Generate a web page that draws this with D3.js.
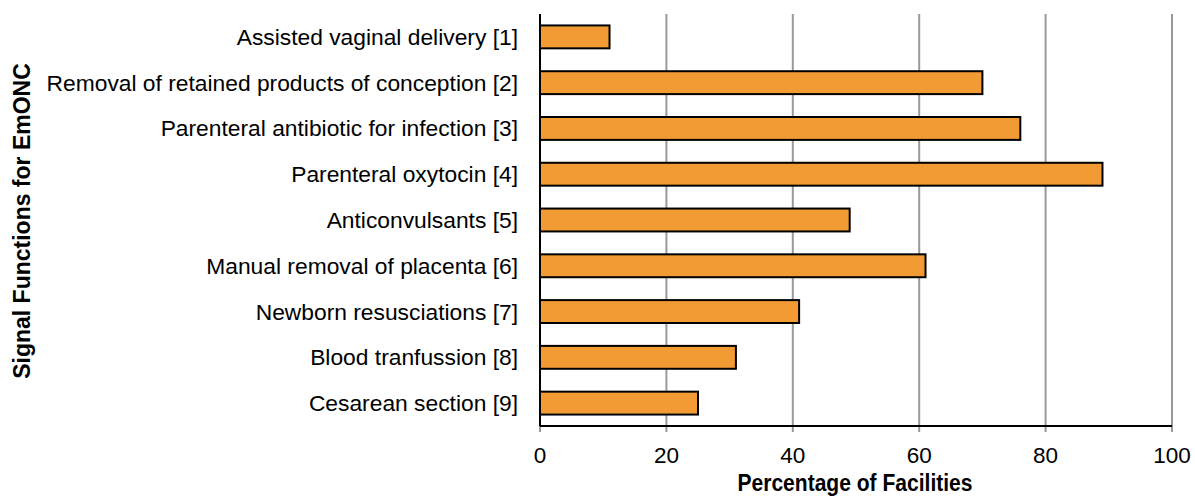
<!DOCTYPE html>
<html><head><meta charset="utf-8">
<script src="https://cdn.jsdelivr.net/npm/d3@7"></script>
<style>body{margin:0;background:#fff}svg{display:block}</style>
</head><body>
<script>
const categories = ["Assisted vaginal delivery [1]","Removal of retained products of conception [2]","Parenteral antibiotic for infection [3]","Parenteral oxytocin [4]","Anticonvulsants [5]","Manual removal of placenta [6]","Newborn resusciations [7]","Blood tranfussion [8]","Cesarean section [9]"];
const values = [11,70,76,89,49,61,41,31,25];
const xTicks = [0,20,40,60,80,100];
const xTitle = "Percentage of Facilities";
const yTitle = "Signal Functions for EmONC";

const W=1195,H=500;
const m={left:540,right:23,top:14,bottom:74};
const svg=d3.select("body").append("svg").attr("width",W).attr("height",H);
const x=d3.scaleLinear().domain([0,100]).range([m.left,W-m.right]);
const y=d3.scaleBand().domain(categories).range([m.top,H-m.bottom]).paddingInner(0.5).paddingOuter(0.25);

// gridlines
svg.append("g").selectAll("line").data(xTicks.slice(1)).join("line")
 .attr("x1",d=>x(d)).attr("x2",d=>x(d)).attr("y1",m.top).attr("y2",H-m.bottom+6)
 .attr("stroke","#999").attr("stroke-width",2);
svg.append("line").attr("x1",x(0)).attr("x2",x(0)).attr("y1",H-m.bottom).attr("y2",H-m.bottom+6).attr("stroke","#999").attr("stroke-width",2);

// bars
svg.append("g").selectAll("rect").data(values).join("rect")
 .attr("x",x(0)).attr("y",(d,i)=>y(categories[i]))
 .attr("width",d=>x(d)-x(0)).attr("height",y.bandwidth())
 .attr("fill","#f29b34").attr("stroke","#000").attr("stroke-width",2);

// axes lines
svg.append("line").attr("x1",x(0)).attr("x2",x(0)).attr("y1",m.top).attr("y2",H-m.bottom).attr("stroke","#000").attr("stroke-width",2);
svg.append("line").attr("x1",x(0)).attr("x2",x(100)).attr("y1",H-m.bottom).attr("y2",H-m.bottom).attr("stroke","#000").attr("stroke-width",2);

// x tick labels
svg.append("g").selectAll("text").data(xTicks).join("text")
 .attr("x",d=>x(d)).attr("y",463).attr("text-anchor","middle")
 .attr("font-family","Liberation Sans, Arial, sans-serif").attr("font-size",22.5).attr("fill","#000")
 .text(d=>d);

// category labels
svg.append("g").selectAll("text").data(categories).join("text")
 .attr("x",518).attr("y",d=>y(d)+y.bandwidth()/2).attr("dy","0.35em").attr("text-anchor","end")
 .attr("font-family","Liberation Sans, Arial, sans-serif").attr("font-size",22.8).attr("fill","#000")
 .text(d=>d);

// titles
svg.append("text").attr("x",855).attr("y",491).attr("text-anchor","middle")
 .attr("font-family","Liberation Sans Narrow, Liberation Sans, Arial, sans-serif").attr("font-weight","bold").attr("font-size",23)
 .attr("textLength",235).attr("lengthAdjust","spacingAndGlyphs")
 .text(xTitle);
svg.append("text").attr("transform","translate(30,221) rotate(-90)").attr("text-anchor","middle")
 .attr("font-family","Liberation Sans, Arial, sans-serif").attr("font-weight","bold").attr("font-size",23)
 .text(yTitle);
</script>
</body></html>
